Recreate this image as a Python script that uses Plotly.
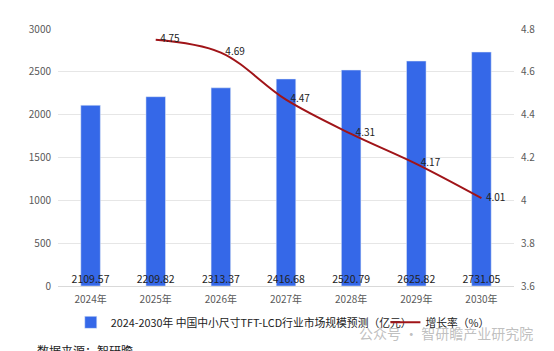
import plotly.graph_objects as go

years = ["2024年", "2025年", "2026年", "2027年", "2028年", "2029年", "2030年"]
market = [2109.57, 2209.82, 2313.37, 2416.68, 2520.79, 2625.82, 2731.05]
growth = [None, 4.75, 4.69, 4.47, 4.31, 4.17, 4.01]

bar_name = "2024-2030年 中国中小尺寸TFT-LCD行业市场规模预测（亿元）"
line_name = "增长率（%）"

font_cjk = "Noto Sans CJK SC, Microsoft YaHei, sans-serif"

fig = go.Figure()
fig.add_trace(go.Bar(
    x=years, y=market, name=bar_name, marker_color="#3568E8",
    width=0.3, yaxis="y", legend="legend",
))
fig.add_trace(go.Scatter(
    x=years, y=[0] * len(years), mode="text",
    text=[f"{v:.2f}" for v in market], textposition="top center",
    textfont=dict(size=10.5, color="#222222", family=font_cjk),
    showlegend=False, hoverinfo="skip", yaxis="y", cliponaxis=False,
))
fig.add_trace(go.Scatter(
    x=years, y=growth, name=line_name, mode="lines+text",
    line=dict(color="#A01418", width=2, shape="spline", smoothing=1),
    text=[("" if g is None else "\u00a0\u00a0" + f"{g:.2f}") for g in growth],
    textposition="middle right",
    textfont=dict(size=10, color="#222222", family=font_cjk),
    yaxis="y2", connectgaps=False, cliponaxis=False, legend="legend2",
))

legend_common = dict(
    orientation="h", y=-0.085, yanchor="top", xanchor="left",
    font=dict(size=10.8, color="#222222"), itemwidth=30,
    bgcolor="rgba(0,0,0,0)",
)

fig.update_layout(
    width=554, height=351,
    margin=dict(l=58, r=40, t=29, b=65, autoexpand=False),
    paper_bgcolor="white", plot_bgcolor="white",
    font=dict(family=font_cjk, size=10, color="#595959"),
    xaxis=dict(
        showgrid=False, showline=True, linecolor="#D9D9D9", linewidth=1,
        ticks="", tickfont=dict(size=10, color="#595959"),
        automargin=False, ticklabelstandoff=4,
    ),
    yaxis=dict(
        range=[0, 3000], dtick=500, showgrid=True, gridcolor="#E6E6E6",
        zeroline=False, ticks="", tickfont=dict(size=10, color="#595959"),
        ticklabelstandoff=6, automargin=False,
    ),
    yaxis2=dict(
        range=[3.6, 4.8], dtick=0.2, overlaying="y", side="right",
        showgrid=False, zeroline=False, ticks="",
        tickfont=dict(size=10, color="#595959"), tickformat="~g",
        ticklabelstandoff=6, automargin=False,
    ),
    legend=dict(x=0.028, **legend_common),
    legend2=dict(x=0.718, **legend_common),
    annotations=[
        dict(text="数据来源：智研瞻", x=-0.05, xref="paper", y=-0.212, yref="paper",
             showarrow=False, xanchor="left", yanchor="top",
             font=dict(size=12, color="#222222")),
        dict(text="公众号 · 智研瞻产业研究院", x=1.045, xref="paper",
             y=-0.135, yref="paper", showarrow=False, xanchor="right",
             yanchor="top", font=dict(size=14, color="rgba(175,175,175,0.8)")),
    ],
)

fig.write_html("out.html")
